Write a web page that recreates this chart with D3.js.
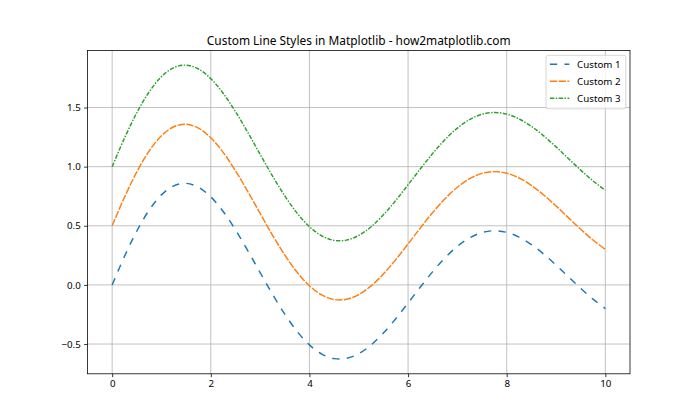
<!DOCTYPE html>
<html>
<head>
<meta charset="utf-8">
<script src="https://cdn.jsdelivr.net/npm/d3@7"></script>
<style>
  html, body { margin: 0; padding: 0; background: #fff; }
  svg text { font-family: "Noto Sans", "Open Sans", sans-serif; }
</style>
</head>
<body>
<svg id="chart" width="700" height="420"></svg>
<script>
const xValues = [0, 0.25, 0.5, 0.75, 1, 1.25, 1.5, 1.75, 2, 2.25, 2.5, 2.75, 3, 3.25, 3.5, 3.75, 4, 4.25, 4.5, 4.75, 5, 5.25, 5.5, 5.75, 6, 6.25, 6.5, 6.75, 7, 7.25, 7.5, 7.75, 8, 8.25, 8.5, 8.75, 9, 9.25, 9.5, 9.75, 10];
const custom1 = [0, 0.2413, 0.4560, 0.6324, 0.7614, 0.8375, 0.8586, 0.8260, 0.7445, 0.6213, 0.4661, 0.2899, 0.1045, -0.0782, -0.2472, -0.3928, -0.5073, -0.5851, -0.6233, -0.6214, -0.5816, -0.5081, -0.4071, -0.2860, -0.1533, -0.0178, 0.1123, 0.2291, 0.3263, 0.3986, 0.4431, 0.4582, 0.4445, 0.4043, 0.3413, 0.2604, 0.1676, 0.0690, -0.0291, -0.1205, -0.2001];
const custom2 = [0.5, 0.7413, 0.9560, 1.1324, 1.2614, 1.3375, 1.3586, 1.3260, 1.2445, 1.1213, 0.9661, 0.7899, 0.6045, 0.4218, 0.2528, 0.1072, -0.0073, -0.0851, -0.1233, -0.1214, -0.0816, -0.0081, 0.0929, 0.2140, 0.3467, 0.4822, 0.6123, 0.7291, 0.8263, 0.8986, 0.9431, 0.9582, 0.9445, 0.9043, 0.8413, 0.7604, 0.6676, 0.5690, 0.4709, 0.3795, 0.2999];
const custom3 = [1.0, 1.2413, 1.4560, 1.6324, 1.7614, 1.8375, 1.8586, 1.8260, 1.7445, 1.6213, 1.4661, 1.2899, 1.1045, 0.9218, 0.7528, 0.6072, 0.4927, 0.4149, 0.3767, 0.3786, 0.4184, 0.4919, 0.5929, 0.7140, 0.8467, 0.9822, 1.1123, 1.2291, 1.3263, 1.3986, 1.4431, 1.4582, 1.4445, 1.4043, 1.3413, 1.2604, 1.1676, 1.0690, 0.9709, 0.8795, 0.7999];
const seriesNames = ["Custom 1", "Custom 2", "Custom 3"];
const xTicks = [0, 2, 4, 6, 8, 10];
const yTicks = [-0.5, 0.0, 0.5, 1.0, 1.5];
const titleText = "Custom Line Styles in Matplotlib - how2matplotlib.com";

(function () {
const pL = 87.5, pR = 630, pT = 50.4, pB = 373.8;
const colors = ["#1f77b4", "#ff7f0e", "#2ca02c"];
const dashes = ["7.3,7.3", "7.3,1.46", "4.4,1.46,1.46,1.46"];
const lw = 1.46;

const svg = d3.select("#chart");
const x = d3.scaleLinear().domain([-0.5, 10.5]).range([pL, pR]);
const y = d3.scaleLinear().domain([-0.7517, 1.9832]).range([pB, pT]);

// grid
const g = svg.append("g");
g.selectAll(".gx").data(xTicks).enter().append("line")
  .attr("x1", d => x(d)).attr("x2", d => x(d)).attr("y1", pT).attr("y2", pB)
  .attr("stroke", "#b0b0b0").attr("stroke-width", 0.78);
g.selectAll(".gy").data(yTicks).enter().append("line")
  .attr("y1", d => y(d)).attr("y2", d => y(d)).attr("x1", pL).attr("x2", pR)
  .attr("stroke", "#b0b0b0").attr("stroke-width", 0.78);

// lines
const allSeries = [custom1, custom2, custom3];
svg.append("clipPath").attr("id", "clip").append("rect")
  .attr("x", pL).attr("y", pT).attr("width", pR - pL).attr("height", pB - pT);
const line = d3.line().x((d, i) => x(xValues[i])).y(d => y(d)).curve(d3.curveCatmullRom);
allSeries.forEach((s, k) => {
  svg.append("path").datum(s).attr("d", line)
    .attr("fill", "none").attr("stroke", colors[k]).attr("stroke-width", lw)
    .attr("stroke-dasharray", dashes[k]).attr("clip-path", "url(#clip)");
});

// axes
const fmtY = d => d3.format(".1f")(d).replace("-", "\u2212");
const xAxis = d3.axisBottom(x).tickValues(xTicks).tickFormat(d3.format("d")).tickSizeOuter(0).tickSizeInner(3.4).tickPadding(3.4);
const yAxis = d3.axisLeft(y).tickValues(yTicks).tickFormat(fmtY).tickSizeOuter(0).tickSizeInner(3.4).tickPadding(3.4);
const gx = svg.append("g").attr("transform", `translate(0,${pB})`).call(xAxis);
const gy = svg.append("g").attr("transform", `translate(${pL},0)`).call(yAxis);
[gx, gy].forEach(a => {
  a.select(".domain").remove();
  a.selectAll(".tick line").attr("stroke", "#000").attr("stroke-width", 0.78);
  a.selectAll(".tick text").attr("fill", "#000").style("font-size", "9.72px");
});

// spines
svg.append("rect").attr("x", pL).attr("y", pT).attr("width", pR - pL).attr("height", pB - pT)
  .attr("fill", "none").attr("stroke", "#000").attr("stroke-width", 0.78);

// title
svg.append("text").attr("x", (pL + pR) / 2).attr("y", pT - 5.8)
  .attr("text-anchor", "middle").style("font-size", "11.9px").attr("fill", "#000").text(titleText);

// legend
const lg = svg.append("g");
lg.append("rect").attr("x", 546).attr("y", 55.3).attr("width", 79.8).attr("height", 53.5)
  .attr("rx", 2).attr("fill", "#fff").attr("fill-opacity", 0.8).attr("stroke", "#cccccc").attr("stroke-width", 0.78);
seriesNames.forEach((name, k) => {
  const yy = 64.3 + k * 17;
  lg.append("line").attr("x1", 549.9).attr("x2", 569.3).attr("y1", yy).attr("y2", yy)
    .attr("stroke", colors[k]).attr("stroke-width", lw).attr("stroke-dasharray", dashes[k]);
  lg.append("text").attr("x", 577.1).attr("y", yy).attr("dy", "0.35em")
    .style("font-size", "9.72px").attr("fill", "#000").text(name);
});
})();
</script>
</body>
</html>
